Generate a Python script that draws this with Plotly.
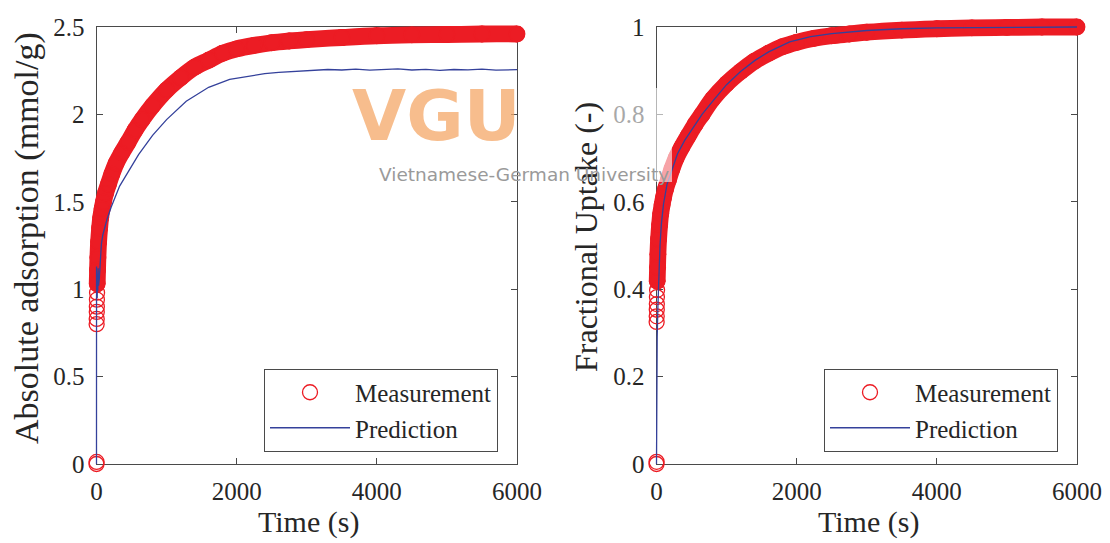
import plotly.graph_objects as go

# ---------------- data ----------------
meas_t = [0, 1, 2, 3, 4, 5, 6, 8, 10, 15, 20, 30, 45, 60, 80, 100, 130, 170, 220, 280,
          360, 450, 550, 650, 800, 1000, 1200, 1400, 1600, 1800, 2000, 2250, 2500, 2750,
          3000, 3500, 4000, 4500, 5000, 5500, 6000]
meas_abs = [0, 0.012, 0.80, 0.83, 0.87, 0.90, 0.94, 0.98, 1.03, 1.11, 1.18, 1.27, 1.35, 1.41,
            1.46, 1.50, 1.55, 1.60, 1.66, 1.72, 1.78, 1.84, 1.91, 1.97, 2.05, 2.14, 2.21,
            2.27, 2.31, 2.35, 2.375, 2.395, 2.41, 2.42, 2.428, 2.44, 2.45, 2.455, 2.457,
            2.46, 2.46]
meas_frac = [0, 0.005, 0.325, 0.338, 0.353, 0.366, 0.382, 0.398, 0.418, 0.45, 0.48, 0.515,
             0.548, 0.573, 0.593, 0.61, 0.63, 0.65, 0.675, 0.70, 0.725, 0.75, 0.777, 0.80,
             0.835, 0.87, 0.898, 0.922, 0.94, 0.955, 0.965, 0.974, 0.98, 0.984, 0.988, 0.993,
             0.996, 0.998, 0.999, 1.0, 1.0]

pred_abs_t = [0, 0.5, 3, 6, 10, 14, 18, 24, 30, 40, 55, 70, 90, 120, 150, 210, 270, 330, 450,
              600, 800, 1000, 1280, 1600, 1900, 2130, 2400, 2600, 2850, 3100, 3300, 3500,
              3700, 3900, 4100, 4300, 4500, 4700, 4900, 5100, 5300, 5500, 5700, 5900, 6000]
pred_abs = [0, 1.13, 0.96, 1.10, 0.95, 1.08, 0.99, 1.12, 1.02, 1.06, 1.20, 1.26, 1.31, 1.36,
            1.40, 1.47, 1.53, 1.59, 1.67, 1.77, 1.88, 1.97, 2.075, 2.155, 2.20, 2.216, 2.233,
            2.24, 2.247, 2.251, 2.257, 2.254, 2.259, 2.253, 2.256, 2.260, 2.254, 2.258,
            2.252, 2.257, 2.255, 2.259, 2.253, 2.257, 2.256]

pred_frac_t = [0, 1, 4, 10, 20, 35, 50, 70, 100, 150, 200, 300, 400, 500, 650, 800, 1000,
               1200, 1400, 1600, 1900, 2200, 2500, 3000, 3500, 4000, 5000, 6000]
pred_frac = [0, 0.24, 0.25, 0.29, 0.36, 0.44, 0.50, 0.55, 0.595, 0.64, 0.665, 0.71, 0.74,
             0.765, 0.80, 0.83, 0.868, 0.898, 0.923, 0.943, 0.966, 0.978, 0.985, 0.992,
             0.996, 0.998, 0.999, 1.0]

x_ticks = [0, 2000, 4000, 6000]
x_range = [0, 6000]
abs_range = [0, 2.5]
frac_range = [0, 1]

# ---------------- style / geometry ----------------
W, H = 1110, 543
RED = "#EC1C24"
BLUE = "#34419B"
AXC = "#4a4a4a"
TXT = "#262626"
SERIF = "Liberation Serif"
MSIZE = 15
MLW = 1.3
BAND_W = MSIZE + MLW + 0.5
BAND_START = 8  # the solid band begins after the first stacked circles

# plot boxes in pixels: left, right, top, bottom
BOX_L = (96.5, 517, 27, 464)
BOX_R = (656.5, 1077, 27, 464)
PAD = 25  # unclipped drawing margin around each box


def px_x(v):
    return v / W


def px_y(v):
    return 1 - v / H


def expanded(box, xr, yr):
    """Hidden axes covering a slightly larger box with the same data scale,
    so thick marks near the frame are not clipped."""
    l, r, t, b = box
    xs = (xr[1] - xr[0]) / (r - l)
    ys = (yr[1] - yr[0]) / (b - t)
    xa = dict(domain=[px_x(l - PAD), px_x(r + PAD)],
              range=[xr[0] - PAD * xs, xr[1] + PAD * xs], visible=False)
    ya = dict(domain=[px_y(b + PAD), px_y(t - PAD)],
              range=[yr[0] - PAD * ys, yr[1] + PAD * ys], visible=False)
    return xa, ya


fig = go.Figure()

# invisible anchors so the framed, ticked axes are drawn
for xa, ya, yr in [("x", "y", abs_range), ("x2", "y2", frac_range)]:
    fig.add_trace(go.Scatter(x=x_range, y=yr, mode="markers", marker=dict(opacity=0),
                             xaxis=xa, yaxis=ya, showlegend=False, hoverinfo="skip"))

for xa, ya, my, pt, py, lg in [("x3", "y3", meas_abs, pred_abs_t, pred_abs, "legend"),
                               ("x4", "y4", meas_frac, pred_frac_t, pred_frac, "legend2")]:
    # dense overlapping circles appear as a solid band with rounded ends
    fig.add_trace(go.Scatter(x=meas_t[BAND_START:], y=my[BAND_START:], mode="lines+markers",
                             line=dict(color=RED, width=BAND_W, shape="spline"),
                             marker=dict(symbol="circle", size=BAND_W, color=RED,
                                         line=dict(width=0)),
                             xaxis=xa, yaxis=ya, showlegend=False, hoverinfo="skip"))
    fig.add_trace(go.Scatter(x=meas_t, y=my, mode="markers", name="Measurement",
                             marker=dict(symbol="circle-open", size=MSIZE, color=RED,
                                         line=dict(width=MLW, color=RED)),
                             xaxis=xa, yaxis=ya, legend=lg))
    fig.add_trace(go.Scatter(x=pt, y=py, mode="lines", name="Prediction",
                             line=dict(color=BLUE, width=1.3),
                             xaxis=xa, yaxis=ya, legend=lg))

axis_common = dict(showline=True, linecolor=AXC, linewidth=1, mirror="ticks",
                   ticks="inside", ticklen=6, tickcolor=AXC, tickwidth=1,
                   showgrid=False, zeroline=False, automargin=False, fixedrange=True,
                   tickfont=dict(family=SERIF, size=25, color=TXT))

x3, y3 = expanded(BOX_L, x_range, abs_range)
x4, y4 = expanded(BOX_R, x_range, frac_range)
x3["anchor"] = "y3"
y3["anchor"] = "x3"
x4["anchor"] = "y4"
y4["anchor"] = "x4"

legend_common = dict(xanchor="right", yanchor="middle", bordercolor=AXC, borderwidth=1,
                     bgcolor="white", itemwidth=80, tracegroupgap=0,
                     font=dict(family=SERIF, size=25, color=TXT))

fig.update_layout(
    width=W, height=H,
    margin=dict(l=0, r=0, t=0, b=0),
    paper_bgcolor="white", plot_bgcolor="rgba(0,0,0,0)",
    xaxis=dict(domain=[px_x(BOX_L[0]), px_x(BOX_L[1])], range=x_range, tickvals=x_ticks,
               anchor="y", ticklabelstandoff=5, **axis_common),
    yaxis=dict(domain=[px_y(BOX_L[3]), px_y(BOX_L[2])], range=abs_range, dtick=0.5,
               anchor="x", ticklabelstandoff=6, **axis_common),
    xaxis2=dict(domain=[px_x(BOX_R[0]), px_x(BOX_R[1])], range=x_range, tickvals=x_ticks,
                anchor="y2", ticklabelstandoff=5, **axis_common),
    yaxis2=dict(domain=[px_y(BOX_R[3]), px_y(BOX_R[2])], range=frac_range, dtick=0.2,
                anchor="x2", ticklabelstandoff=6, **axis_common),
    xaxis3=x3, yaxis3=y3, xaxis4=x4, yaxis4=y4,
    legend=dict(x=px_x(498), y=px_y(410), **legend_common),
    legend2=dict(x=px_x(1058), y=px_y(410), **legend_common),
    showlegend=True,
)

# axis titles
titles = [
    ("Time (s)", 308, 522, 0, 30),
    ("Time (s)", 868, 522, 0, 30),
    ("Absolute adsorption (mmol/g)", 27, 238, -90, 34),
    ("Fractional Uptake (-)", 586, 237, -90, 32),
]
for text, x, y, ang, size in titles:
    fig.add_annotation(text=text, x=px_x(x), y=px_y(y), xref="paper", yref="paper",
                       xanchor="center", yanchor="middle", textangle=ang, showarrow=False,
                       font=dict(family=SERIF, size=size, color=TXT))

# watermark overlay
fig.add_shape(type="rect", xref="paper", yref="paper",
              x0=px_x(522), x1=px_x(672), y0=px_y(182), y1=px_y(88),
              fillcolor="rgba(255,255,255,0.6)", line=dict(width=0), layer="above")
fig.add_annotation(text="<b>VGU</b>", x=px_x(436), y=px_y(116), xref="paper", yref="paper",
                   xanchor="center", yanchor="middle", showarrow=False, opacity=0.75,
                   font=dict(family="DejaVu Sans", size=70, color="#F5A868"))
fig.add_annotation(text="Vietnamese-German University", x=px_x(524), y=px_y(174),
                   xref="paper", yref="paper", xanchor="center", yanchor="middle",
                   showarrow=False,
                   font=dict(family="DejaVu Sans", size=18.5, color="#9a9a9a"))

fig.write_html("out.html")
